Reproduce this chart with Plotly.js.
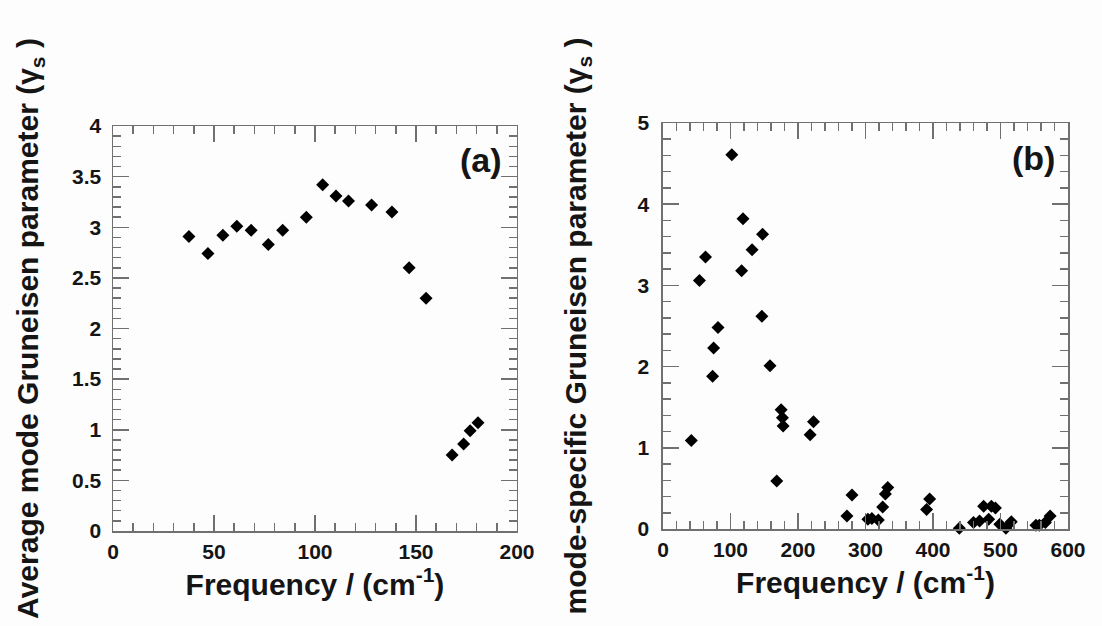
<!DOCTYPE html>
<html>
<head>
<meta charset="utf-8">
<script src="https://cdn.plot.ly/plotly-3.0.1.min.js"></script>
<style>html,body{margin:0;padding:0;background:#fdfdfd;}#chart{width:1102px;height:626px;}</style>
</head>
<body>
<div id="chart"></div>
<script>
// Panel (a): average mode Gruneisen parameter
const freqA = [37.6, 47.0, 54.4, 61.3, 68.4, 76.9, 84.0, 95.7, 103.8, 110.4, 116.6, 128.0, 138.1, 146.6, 155.0, 167.9, 173.6, 176.8, 180.7];
const gammaA = [2.91, 2.74, 2.92, 3.01, 2.97, 2.83, 2.97, 3.10, 3.42, 3.31, 3.26, 3.22, 3.15, 2.60, 2.30, 0.75, 0.86, 0.99, 1.07];

// Panel (b): mode-specific Gruneisen parameter
const freqB = [42, 54, 63, 73.5, 75, 81.5, 102, 116.5, 118.5, 132, 146.5, 147.5, 158.5, 168.5, 175, 177, 178, 218, 223, 272.5, 280, 303.5, 309.5, 319, 325.5, 329.5, 333, 390.5, 395, 439, 460, 469, 475, 482.5, 486.5, 492.5, 499, 508, 516, 552.5, 557.5, 566.5, 573.5];
const gammaB = [1.09, 3.06, 3.35, 1.88, 2.23, 2.48, 4.61, 3.18, 3.82, 3.44, 2.62, 3.63, 2.01, 0.59, 1.47, 1.37, 1.27, 1.16, 1.32, 0.16, 0.42, 0.12, 0.13, 0.11, 0.27, 0.43, 0.51, 0.24, 0.37, 0.01, 0.08, 0.10, 0.28, 0.12, 0.28, 0.26, 0.06, 0.01, 0.09, 0.045, 0.045, 0.08, 0.16];

const panelLabels = ["(a)", "(b)"];
const xTitle = "Frequency / (cm<sup>-1</sup>)";
const yTitleA = "Average mode Gruneisen parameter (γ<sub>s</sub> )";
const yTitleB = "mode-specific Gruneisen parameter (γ<sub>s</sub> )";

const FONT = "Liberation Sans, Arial, Helvetica, sans-serif";
const AX = "#707070";
const TXT = "#151515";
const titleFont = {family: FONT, size: 30, color: TXT, weight: 700};

function minorOf(d) {
  return {dtick: d, ticks: "inside", ticklen: 8, tickwidth: 1.5, tickcolor: AX};
}

function axisBase(extra) {
  return Object.assign({
    showline: true, linecolor: AX, linewidth: 1.5, mirror: true,
    ticks: "inside", ticklen: 16, tickwidth: 1.5, tickcolor: AX,
    showgrid: false, zeroline: false,
    tickfont: {family: FONT, size: 21, color: TXT, weight: 700}
  }, extra);
}

// tick-only mirror axes (top and right), so minor ticks also appear there
function mirrorAxis(extra) {
  return Object.assign({
    showline: false, showticklabels: false,
    ticks: "inside", ticklen: 16, tickwidth: 1.5, tickcolor: AX,
    showgrid: false, zeroline: false, fixedrange: true
  }, extra);
}

const marker = {symbol: "diamond", size: 10, color: "#000"};
const traces = [
  {x: freqA, y: gammaA, xaxis: "x", yaxis: "y", type: "scatter", mode: "markers",
   marker: marker, cliponaxis: false, showlegend: false},
  {x: freqB, y: gammaB, xaxis: "x2", yaxis: "y2", type: "scatter", mode: "markers",
   marker: marker, cliponaxis: false, showlegend: false},
  // invisible carriers so the top/right tick axes get drawn
  {x: freqA, y: gammaA, xaxis: "x3", yaxis: "y3", type: "scatter", mode: "markers",
   marker: {size: 1, opacity: 0}, hoverinfo: "skip", showlegend: false},
  {x: freqB, y: gammaB, xaxis: "x4", yaxis: "y4", type: "scatter", mode: "markers",
   marker: {size: 1, opacity: 0}, hoverinfo: "skip", showlegend: false}
];

const layout = {
  width: 1102, height: 626,
  paper_bgcolor: "#fdfdfd", plot_bgcolor: "#fdfdfd",
  margin: {l: 113, r: 34, t: 123, b: 95},
  showlegend: false,
  xaxis: axisBase({domain: [0, 0.4230], range: [0, 200], dtick: 50, tick0: 0,
    minor: minorOf(10), anchor: "y", ticklabelstandoff: 1,
    title: {text: xTitle, standoff: 12, font: titleFont}}),
  yaxis: axisBase({domain: [0, 0.9926], range: [0, 4], dtick: 0.5, tick0: 0,
    minor: minorOf(0.1), anchor: "x", ticklabelstandoff: 6,
    title: {text: yTitleA, standoff: 24, font: titleFont}}),
  xaxis2: axisBase({domain: [0.5759, 1], range: [0, 600], dtick: 100, tick0: 0,
    minor: minorOf(20), anchor: "y2", ticklabelstandoff: 1,
    title: {text: xTitle, standoff: 12, font: titleFont}}),
  yaxis2: axisBase({domain: [0.0049, 1], range: [0, 5], dtick: 1, tick0: 0,
    minor: minorOf(0.2), anchor: "x2", ticklabelstandoff: 8,
    title: {text: yTitleB, standoff: 42, font: titleFont}}),
  xaxis3: mirrorAxis({overlaying: "x", side: "top", anchor: "y3", range: [0, 200], dtick: 50, tick0: 0, minor: minorOf(10)}),
  yaxis3: mirrorAxis({overlaying: "y", side: "right", anchor: "x3", range: [0, 4], dtick: 0.5, tick0: 0, minor: minorOf(0.1)}),
  xaxis4: mirrorAxis({overlaying: "x2", side: "top", anchor: "y4", range: [0, 600], dtick: 100, tick0: 0, minor: minorOf(20)}),
  yaxis4: mirrorAxis({overlaying: "y2", side: "right", anchor: "x4", range: [0, 5], dtick: 1, tick0: 0, minor: minorOf(0.2)}),
  annotations: [
    {text: panelLabels[0], xref: "x domain", yref: "y domain", x: 0.911, y: 0.916,
     xanchor: "center", yanchor: "middle", showarrow: false,
     font: {family: FONT, size: 34, color: TXT, weight: 700}},
    {text: panelLabels[1], xref: "x2 domain", yref: "y2 domain", x: 0.914, y: 0.914,
     xanchor: "center", yanchor: "middle", showarrow: false,
     font: {family: FONT, size: 34, color: TXT, weight: 700}}
  ]
};

Plotly.newPlot("chart", traces, layout, {displayModeBar: false, staticPlot: true});
</script>
</body>
</html>
